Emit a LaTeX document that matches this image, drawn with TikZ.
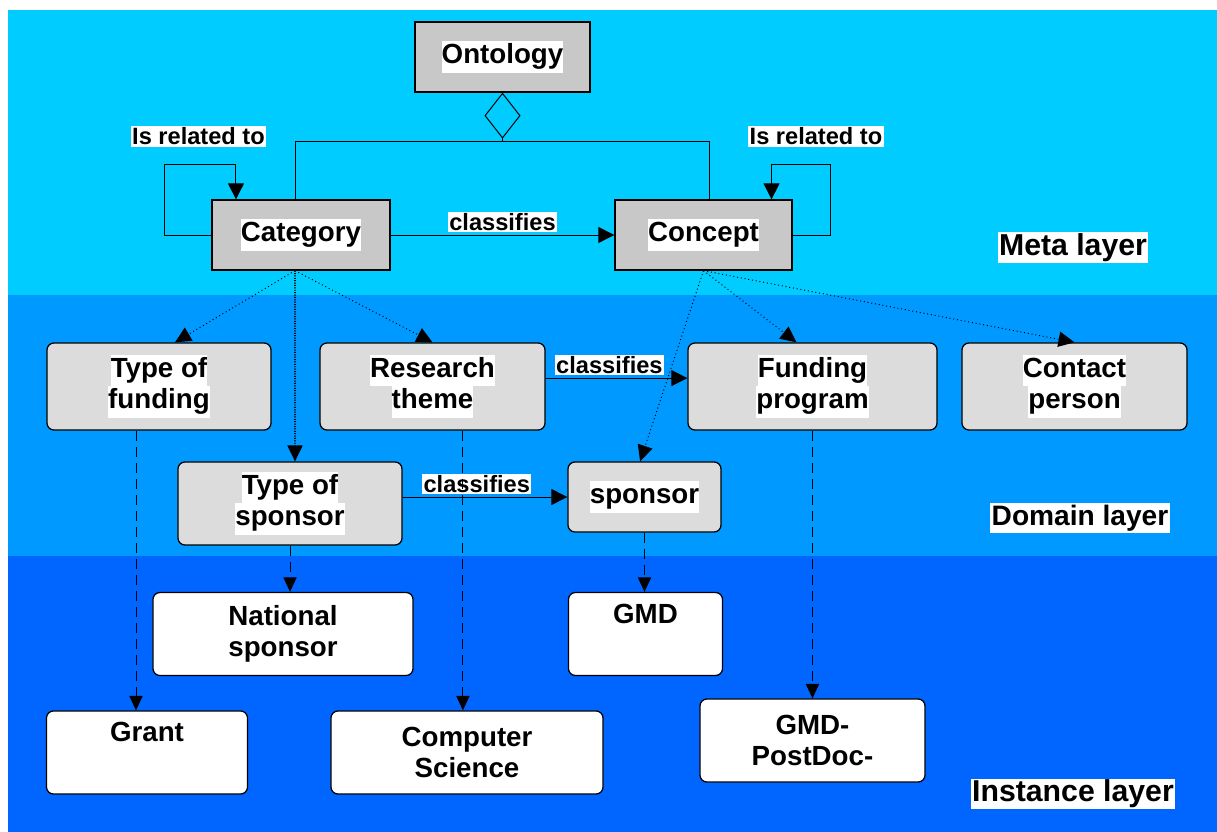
\documentclass[tikz,border=0pt]{standalone}
\usepackage{fontspec}
\setmainfont{Liberation Sans}
\usepackage{xcolor}
\usepackage{tikz}
\usetikzlibrary{arrows.meta}
\definecolor{metafondo}{HTML}{00CCFF}
\definecolor{domfondo}{HTML}{0099FF}
\definecolor{instfondo}{HTML}{0066FF}
\definecolor{grismeta}{HTML}{C8C8C8}
\definecolor{grisdom}{HTML}{DCDCDC}
\newcommand{\wb}[1]{{\setlength{\fboxsep}{0pt}\colorbox{white}{\strut #1}}}
\tikzset{
  metabox/.style={draw,line width=0.9pt,fill=grismeta,align=center,inner sep=0pt,minimum height=1.75cm,font=\fontsize{19.7}{22.5}\selectfont\bfseries},
  dombox/.style={metabox,fill=grisdom,rounded corners=5pt,minimum height=2.175cm},
  instbox/.style={dombox,fill=white,minimum height=2.075cm},
  link/.style={-{Triangle[length=4mm,width=4mm]},line width=0.7pt},
  linkdot/.style={-{Triangle[length=4mm,width=3.8mm]},line width=0.7pt,dotted},
  linkdash/.style={-{Triangle[length=3.6mm,width=3.3mm]},line width=0.7pt,dash pattern=on 2.5mm off 1.5mm},
  tag/.style={fill=white,inner sep=1pt,font=\fontsize{16.8}{18}\selectfont\bfseries},
  layertag/.style={fill=white,inner sep=1pt,font=\fontsize{21.5}{23}\selectfont\bfseries},
}
\begin{document}
\begin{tikzpicture}[x=0.025cm,y=-0.025cm]
  \useasboundingbox (0,0) rectangle (1217,832);
  \fill[metafondo] (8,10) rectangle (1217,295);
  \fill[domfondo] (8,295) rectangle (1217,556);
  \fill[instfondo] (8,556) rectangle (1217,832);
  \node[metabox,minimum width=4.375cm] (onto) at (502.5,57) {\wb{Ontology}};
  \node[metabox,minimum width=4.45cm] (cat) at (301,235) {\wb{Category}};
  \node[metabox,minimum width=4.425cm] (con) at (703.5,235) {\wb{Concept}};
  \node[dombox,minimum width=5.6cm] (tfund) at (159,386.5) {\wb{Type of}\\\wb{funding}};
  \node[dombox,minimum width=5.625cm] (rtheme) at (432.5,386.5) {\wb{Research}\\\wb{theme}};
  \node[dombox,minimum width=6.225cm] (fprog) at (812.5,386.5) {\wb{Funding}\\\wb{program}};
  \node[dombox,minimum width=5.625cm] (cperson) at (1074.5,386.5) {\wb{Contact}\\\wb{person}};
  \node[dombox,minimum width=5.6cm,minimum height=2.075cm] (tspon) at (290,503.5) {\wb{Type of}\\\wb{sponsor}};
  \node[dombox,minimum width=3.825cm,minimum height=1.75cm] (spon) at (644.5,497) {\wb{sponsor}};
  \node[instbox,minimum width=6.5cm] (natspon) at (283,634) {National\\sponsor};
  \node[instbox,minimum width=3.85cm] (gmd) at (645.5,634) {GMD\\\strut};
  \node[instbox,minimum width=5.025cm] (grant) at (147,752.5) {Grant\\\strut};
  \node[instbox,minimum width=6.8cm] (cs) at (467,752.5) {Computer\\Science};
  \node[instbox,minimum width=5.625cm] (gmdpd) at (812.5,740.5) {GMD-\\PostDoc-};
  \node[layertag] (meta) at (1073,248) {Meta layer};
  \node[layertag,font=\fontsize{20}{22}\selectfont\bfseries] (dom) at (1080,518) {Domain layer};
  \node[layertag] (inst) at (1073,794) {Instance layer};
  \coordinate (agg) at ([yshift=-1.225cm]onto.south);
  \draw[{Diamond[open,length=11.5mm,width=9mm]}-,line width=0.7pt] (onto.south) -- (agg);
  \draw[line width=0.7pt] ([xshift=-0.15cm]cat.north) |- (agg) -| ([xshift=0.15cm]con.north);
  \draw[link] (cat.west) -- ++(-47,0) -- ++(0,-71) -| ([xshift=-1.625cm]cat.north);
  \node[tag] (relcat) at (198.5,136.5) {Is related to};
  \draw[link] (con.east) -- ++(38,0) -- ++(0,-71) -| ([xshift=1.7cm]con.north);
  \node[tag] (relcon) at (816,136.5) {Is related to};
  \draw[link] (cat) -- node[tag,above=1.5pt] (clsmeta) {classifies} (con);
  \draw[link] ([yshift=0.21cm]rtheme.east) -- node[tag,above=1.5pt,pos=0.45] (clsdom) {classifies} ([yshift=0.21cm]fprog.west);
  \draw[link] (tspon.east |- spon) -- node[tag,above=1.5pt,pos=0.45] (clsspon) {classifies} (spon);
  \draw[linkdot] ([xshift=-0.15cm]cat.south) -- ([xshift=0.4cm]tfund.north);
  \draw[linkdot] ([xshift=-0.15cm]cat.south) -- (rtheme.north);
  \draw[linkdot,densely dotted,line width=1.1pt] ([xshift=-0.15cm]cat.south) -- ([xshift=0.125cm]tspon.north);
  \draw[linkdot] (con.south) -- ([xshift=-0.11cm]spon.north);
  \draw[linkdot] (con.south) -- ([xshift=-0.4cm]fprog.north);
  \draw[linkdot] (con.south) -- (cperson.north);
  \coordinate (tfundout) at ([xshift=-0.575cm]tfund.south);
  \coordinate (rthemeout) at ([xshift=0.76cm]rtheme.south);
  \draw[linkdash] (tfundout) -- (tfundout |- grant.north);
  \draw[linkdash] (rthemeout) -- (rthemeout |- cs.north);
  \draw[linkdash] (tspon.south) -- (tspon.south |- natspon.north);
  \draw[linkdash] (spon.south) -- (spon.south |- gmd.north);
  \draw[linkdash] (fprog.south) -- (gmdpd.north);
\end{tikzpicture}
\end{document}
